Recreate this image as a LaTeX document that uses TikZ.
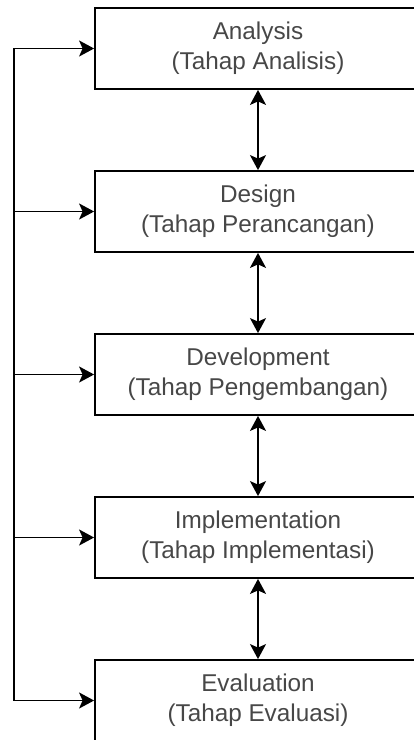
\documentclass[tikz,border=0pt]{standalone}
\usepackage{fontspec}
\setmainfont{Liberation Sans}
\usetikzlibrary{arrows.meta}
\begin{document}
\begin{tikzpicture}[x=1pt, y=-1pt, font=\fontsize{24.3}{30}\selectfont]
    \tikzset{stage/.style={draw, line width=1.8pt, minimum width=326pt, minimum height=81pt, inner sep=0pt, align=center, text=black!72},
      link/.style={line width=1.8pt},
      >={Stealth[length=15pt, width=16pt, inset=3.5pt]}}
    \useasboundingbox (0,0) rectangle (414,740);
    \clip (0,0) rectangle (414,740);
    \foreach \i/\a/\b in {1/Analysis/Analisis, 2/Design/Perancangan, 3/Development/Pengembangan,
                          4/Implementation/Implementasi, 5/Evaluation/Evaluasi} {
      \node[stage] (s\i) at (258, -114.5+\i*163) {\a\\(Tahap \b)};
      \coordinate (b\i) at (14, -114.5+\i*163);
      \draw[link, ->] (b\i) -- (s\i.west);
    }
    \draw[link, line cap=rect] (b1) -- (b5);
    \foreach \i/\j in {1/2, 2/3, 3/4, 4/5}
      \draw[link, <->] (s\i.south) -- (s\j.north);
  \end{tikzpicture}
\end{document}
